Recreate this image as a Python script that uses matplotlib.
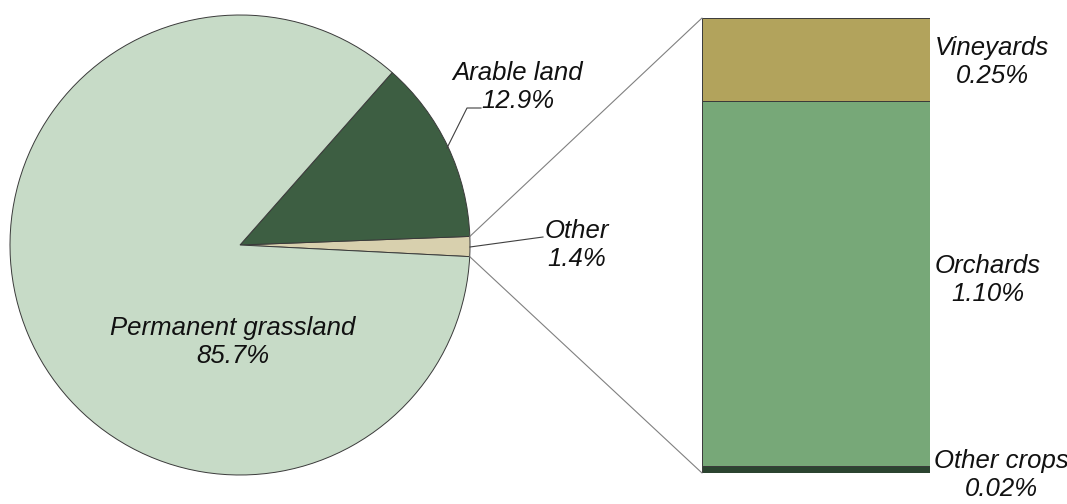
import matplotlib
matplotlib.use("Agg")
import matplotlib.pyplot as plt
from matplotlib.patches import ConnectionPatch
from matplotlib.lines import Line2D
import numpy as np

# Data
pie_labels = ["Other", "Arable land", "Permanent grassland"]
pie_values = [1.4, 12.9, 85.7]
pie_colors = ["#d8d0ae", "#3d5e42", "#c7dbc7"]

bar_labels = ["Other crops", "Orchards", "Vineyards"]
bar_values = [0.02, 1.10, 0.25]
bar_texts = ["0.02%", "1.10%", "0.25%"]
bar_colors = ["#2b4430", "#77a878", "#b2a35c"]

W, H = 1067, 504
fig = plt.figure(figsize=(W / 100, H / 100), dpi=100)
plt.rcParams['font.family'] = ['Liberation Sans', 'DejaVu Sans']

# Pie axes: center (240,245), radius 230 px
cx, cy, r = 240, 245, 230
ax1 = fig.add_axes([(cx - r) / W, (H - cy - r) / H, 2 * r / W, 2 * r / H])
start = -2.9
wedges, _ = ax1.pie(pie_values, colors=pie_colors, startangle=start, counterclock=True,
                    radius=1, wedgeprops=dict(edgecolor="#3a3a3a", linewidth=0.7))
ax1.set_xlim(-1, 1)
ax1.set_ylim(-1, 1)
ax1.set_aspect('equal')
ax1.axis('off')

# Bar axes
bx0, bx1, by0, by1 = 702, 930, 18, 473
ax2 = fig.add_axes([bx0 / W, (H - by1) / H, (bx1 - bx0) / W, (by1 - by0) / H])
bottom = 0
for v, c in zip(bar_values, bar_colors):
    ax2.bar(0, v, width=1, bottom=bottom, color=c, edgecolor="#3a3a3a", linewidth=0.7)
    bottom += v
total = sum(bar_values)
ax2.set_xlim(-0.5, 0.5)
ax2.set_ylim(0, total)
ax2.axis('off')

# connection lines from 'Other' wedge to bar
th1 = np.deg2rad(start)
th2 = np.deg2rad(start + pie_values[0] / 100 * 360)
for th, yb in [(th2, total), (th1, 0)]:
    con = ConnectionPatch(xyA=(-0.5, yb), coordsA=ax2.transData,
                          xyB=(np.cos(th), np.sin(th)), coordsB=ax1.transData,
                          color="#808080", linewidth=0.8)
    fig.add_artist(con)

def px(x, y):
    return x / W, 1 - y / H

# Leader lines
xs, ys = zip(*[px(447, 148), px(467, 108), px(481, 108)])
fig.add_artist(Line2D(xs, ys, color="#404040", linewidth=0.8))
xs, ys = zip(*[px(470, 247), px(543, 237)])
fig.add_artist(Line2D(xs, ys, color="#404040", linewidth=0.8))

fs = 18.5
def label(x, y, s):
    fig.text(*px(x, y), s, ha='center', va='center', fontsize=fs, style='italic',
             color="#111111", linespacing=1.18)

label(518, 87, "Arable land\n12.9%")
label(577, 245, "Other\n1.4%")
label(233, 342, "Permanent grassland\n85.7%")
label(992, 62, "Vineyards\n0.25%")
label(988, 280, "Orchards\n1.10%")
label(1001, 475, "Other crops\n0.02%")

fig.savefig("out.png", dpi=100)
